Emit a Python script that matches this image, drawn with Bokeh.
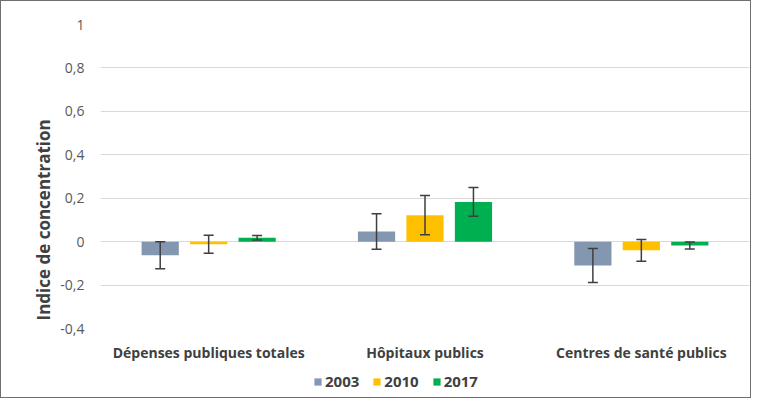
from bokeh.plotting import figure
from bokeh.layouts import column
from bokeh.models import (ColumnDataSource, FactorRange, Range1d, FixedTicker, Whisker, TeeHead,
                          Legend, LegendItem, Title)
from bokeh.transform import dodge
from bokeh.embed import file_html
from bokeh.resources import INLINE

categories = ["Dépenses publiques totales", "Hôpitaux publics", "Centres de santé publics"]
years = ["2003", "2010", "2017"]
v2003 = [-0.063, 0.047, -0.11]
e2003 = [0.062, 0.082, 0.078]
v2010 = [-0.012, 0.122, -0.04]
e2010 = [0.042, 0.09, 0.05]
v2017 = [0.018, 0.183, -0.018]
e2017 = [0.01, 0.066, 0.016]
y_ticks = [-0.4, -0.2, 0, 0.2, 0.4, 0.6, 0.8, 1]
y_tick_labels = ["-0,4", "-0,2", "0", "0,2", "0,4", "0,6", "0,8", "1"]

colors = ["#8497B0", "#FFC000", "#00B050"]
offsets = [-0.224, 0.0, 0.224]
FONT = "Open Sans"

p = figure(x_range=FactorRange(*categories), y_range=Range1d(-0.4, 1.0),
           width=749, height=363, output_backend="svg", toolbar_location=None,
           min_border_left=99, min_border_right=1, min_border_top=23, min_border_bottom=36)
p.outline_line_color = None
p.background_fill_color = "white"
p.border_fill_color = "white"

series = [(v2003, e2003), (v2010, e2010), (v2017, e2017)]
for i, (vals, errs) in enumerate(series):
    src = ColumnDataSource(dict(cat=categories, val=vals,
                                lo=[v - e for v, e in zip(vals, errs)],
                                hi=[v + e for v, e in zip(vals, errs)]))
    p.vbar(x=dodge("cat", offsets[i], range=p.x_range), top="val", bottom=0, width=0.172,
           source=src, fill_color=colors[i], line_color=None)
    w = Whisker(base=dodge("cat", offsets[i], range=p.x_range), lower="lo", upper="hi", source=src,
                line_color="#3F3F3F", line_width=1.5, level="overlay",
                upper_head=TeeHead(size=10, line_color="#3F3F3F", line_width=1.5),
                lower_head=TeeHead(size=10, line_color="#3F3F3F", line_width=1.5))
    p.add_layout(w)

for ax in (p.xaxis, p.yaxis):
    ax.axis_line_color = None
    ax.major_tick_line_color = None
    ax.minor_tick_line_color = None
    ax.major_tick_out = 0
    ax.major_tick_in = 0
    ax.minor_tick_out = 0
    ax.minor_tick_in = 0

p.yaxis.ticker = FixedTicker(ticks=y_ticks)
p.yaxis.major_label_overrides = {t: l for t, l in zip(y_ticks, y_tick_labels)}
p.yaxis.major_label_text_font = FONT
p.yaxis.major_label_text_font_size = "14px"
p.yaxis.major_label_text_color = "#595959"
p.yaxis.major_label_standoff = 16

p.add_layout(Title(text="Indice de concentration", align="left", offset=8, standoff=5,
                   text_font=FONT, text_font_style="bold", text_font_size="17px",
                   text_color="#404040"), "left")

p.xaxis.major_label_text_font = FONT
p.xaxis.major_label_text_font_style = "bold"
p.xaxis.major_label_text_font_size = "14px"
p.xaxis.major_label_text_color = "#404040"
p.xaxis.major_label_standoff = 14

p.xgrid.grid_line_color = None
p.ygrid.grid_line_color = "#D9D9D9"
p.ygrid.grid_line_width = 1.2

# legend strip below the chart
lg = figure(width=749, height=33, output_backend="svg", toolbar_location=None,
            x_range=Range1d(0, 1), y_range=Range1d(0, 1),
            min_border_left=99, min_border_right=1, min_border_top=0, min_border_bottom=0)
lg.axis.visible = False
lg.grid.grid_line_color = None
lg.outline_line_color = None
lg.border_fill_color = "white"
items = []
for i in range(3):
    r = lg.vbar(x=[0.5], top=[0], bottom=[0], width=0, fill_color=colors[i], line_color=None)
    items.append(LegendItem(label=years[i], renderers=[r]))
legend = Legend(items=items, orientation="horizontal", location=(213, 6),
                label_text_font=FONT, label_text_font_style="bold", label_text_font_size="15px",
                label_text_color="#404040", glyph_width=9, glyph_height=9, spacing=13,
                label_standoff=3, border_line_color=None, background_fill_alpha=0,
                padding=4, margin=0)
lg.add_layout(legend)

layout = column(p, lg, spacing=0, styles={"border": "1px solid #6F6F6F"})
open("out.html", "w").write(file_html(layout, INLINE))
